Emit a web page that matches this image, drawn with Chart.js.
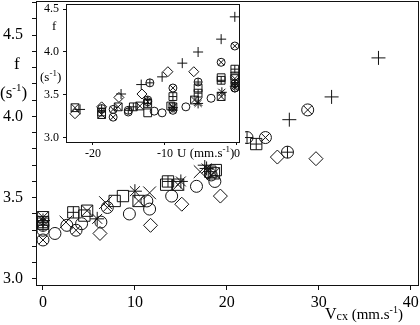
<!DOCTYPE html>
<html>
<head>
<meta charset="utf-8">
<script src="https://cdn.jsdelivr.net/npm/chart.js@4.4.0/dist/chart.umd.min.js"></script>
<style>
body{margin:0;background:#fff}
#wrap{position:relative;width:420px;height:325px}
#main{position:absolute;left:0;top:0}
#inset{position:absolute;left:37px;top:2px;background:#fff}
</style>
</head>
<body>
<div id="wrap">
<canvas id="main" width="420" height="325"></canvas>
<canvas id="inset" width="208" height="158"></canvas>
</div>
<script>
// main panel: f (s-1) against Vcx (mm.s-1), one array per marker
var mainCircle = [[0,3.30],[1.3,3.28],[2.6,3.33],[4.2,3.34],[6.3,3.35],[9.4,3.40],[11.3,3.48],[11.6,3.43],[14.0,3.51],[16.7,3.57],[18.7,3.60]];
var mainDiamond = [[6.2,3.28],[11.7,3.33],[15.1,3.46],[19.3,3.51],[25.5,3.75],[29.7,3.74]];
var mainPlus = [[17.6,3.70],[26.8,3.98],[31.4,4.12],[36.5,4.36]];
var mainCirclePlus = [[0,3.33],[22.2,3.87],[26.6,3.78]];
var mainCircleX = [[0,3.24],[3.6,3.30],[7.0,3.44],[18.3,3.64],[24.2,3.87],[28.8,4.04]];
var mainSquarePlus = [[0,3.35],[3.3,3.41],[13.6,3.60],[18.2,3.66],[23.2,3.83]];
var mainSquareX = [[0,3.38],[4.8,3.42],[10.4,3.48],[14.7,3.58],[18.6,3.65]];
var mainCross = [[2.5,3.35],[6.8,3.47],[11.6,3.53],[17.1,3.66]];
var mainStar = [[0,3.36],[5.9,3.37],[10.0,3.54],[15.0,3.60],[17.8,3.68]];
var mainSquare = [[0,3.34],[4.5,3.39],[7.8,3.48],[8.7,3.51],[13.4,3.58],[18.8,3.67]];

// inset: f (s-1) against U (mm.s-1)
var insetCircle = [[-15.1,3.30],[-11.5,3.31],[-10.4,3.29],[-7.1,3.36],[-3.6,3.46],[-0.3,3.58]];
var insetDiamond = [[-22.5,3.28],[-18.8,3.36],[-16.4,3.47],[-13.2,3.51],[-9.6,3.77],[-6.0,3.77]];
var insetPlus = [[-21.8,3.33],[-16.1,3.51],[-13.3,3.62],[-10.4,3.71],[-7.6,3.87],[-5.4,4.00],[-2.2,4.15],[-0.3,4.41]];
var insetCirclePlus = [[-18.8,3.34],[-15.1,3.32],[-12.4,3.44],[-12.1,3.64],[-5.4,3.65],[-0.3,3.63]];
var insetCircleX = [[-17.2,3.24],[-17.2,3.33],[-12.4,3.42],[-8.9,3.58],[-8.9,3.32],[-2.2,3.88],[-0.3,4.07],[-0.3,3.58]];
var insetSquarePlus = [[-18.8,3.30],[-14.4,3.36],[-12.4,3.40],[-8.9,3.48],[-5.4,3.52],[-2.2,3.67],[-0.3,3.80]];
var insetSquareX = [[-22.5,3.35],[-18.8,3.27],[-16.5,3.36],[-13.5,3.37],[-8.9,3.36],[-5.9,3.44],[-2.2,3.48],[-0.3,3.69]];
var insetCross = [[-5.4,3.42],[-0.3,3.66]];
var insetStar = [[-8.9,3.35],[-5.4,3.40],[-2.1,3.53],[-0.3,3.60]];
var insetSquare = [[-12.4,3.29],[-9.2,3.37],[-5.4,3.58],[-2.2,3.70],[-0.3,3.72]];

var mainXTicks = [0, 10, 20, 30, 40];
var mainYLabels = [3.0, 3.5, 4.0, 4.5];
var insetXTicks = [-20, -10, 0];
var insetYTicks = [3.0, 3.5, 4.0, 4.5];

var ink = '#111';

function ds(data, style, r) {
    return {
        data: data,
        pointStyle: style,
        pointRadius: r,
        pointHoverRadius: r,
        pointBorderColor: ink,
        pointBackgroundColor: 'rgba(0,0,0,0)',
        pointBorderWidth: 1,
        showLine: false
    };
}

// draw text pieces, some of them raised or lowered
function drawParts(ctx, parts, x, y) {
    parts.forEach(function(p){
        ctx.font = p.size + 'px "Liberation Serif"';
        ctx.fillText(p.t, x, y + (p.dy || 0));
        x += ctx.measureText(p.t).width;
    });
}

function boxPlugin(texts) {
    return {
        id: 'box',
        afterDraw: function(chart) {
            var ctx = chart.ctx, a = chart.chartArea;
            ctx.save();
            ctx.strokeStyle = ink;
            ctx.lineWidth = 1;
            ctx.strokeRect(Math.round(a.left) + 0.5, Math.round(a.top) + 0.5,
                Math.round(a.right - a.left), Math.round(a.bottom - a.top));
            ctx.fillStyle = '#000';
            ctx.textBaseline = 'alphabetic';
            ctx.textAlign = 'left';
            texts.forEach(function(t){ drawParts(ctx, t.parts, t.x, t.y); });
            ctx.restore();
        }
    };
}

function axis(min, max, ticksFn, label, fontSize, tickLen, pad, size) {
    return {
        type: 'linear',
        min: min,
        max: max,
        afterBuildTicks: function(s){ s.ticks = ticksFn().map(function(v){ return {value: v}; }); },
        afterFit: function(s){
            if (s.isHorizontal()) s.height = size; else s.width = size;
            s.paddingTop = 0; s.paddingBottom = 0; s.paddingLeft = 0; s.paddingRight = 0;
        },
        ticks: {
            autoSkip: false,
            maxRotation: 0,
            color: '#000',
            padding: pad,
            font: {family: 'Liberation Serif', size: fontSize},
            callback: label
        },
        grid: {drawOnChartArea: false, drawTicks: true, tickLength: tickLen, color: ink},
        border: {color: ink, width: 1}
    };
}

var mainSets = [
    ds(mainCircle, 'circle', 6),
    ds(mainDiamond, 'rectRot', 7),
    ds(mainPlus, 'cross', 7),
    ds(mainCirclePlus, 'circle', 6), ds(mainCirclePlus, 'cross', 6),
    ds(mainCircleX, 'circle', 6), ds(mainCircleX, 'crossRot', 6),
    ds(mainSquarePlus, 'rect', 8), ds(mainSquarePlus, 'cross', 5.6),
    ds(mainSquareX, 'rect', 8), ds(mainSquareX, 'crossRot', 8),
    ds(mainCross, 'crossRot', 9),
    ds(mainStar, 'star', 7),
    ds(mainSquare, 'rect', 8)
];

new Chart(document.getElementById('main'), {
    type: 'scatter',
    data: {datasets: mainSets},
    options: {
        responsive: false,
        animation: false,
        layout: {autoPadding: false, padding: {left: 0, right: 2, top: 1, bottom: 0}},
        plugins: {legend: {display: false}, tooltip: {enabled: false}},
        scales: {
            x: axis(-0.76, 40.8, function(){ return mainXTicks; },
                function(v){ return String(v); }, 16, 5, 3, 40),
            y: axis(2.963, 4.71, function(){
                    var t = [];
                    for (var i = 30; i <= 47; i++) t.push(i / 10);
                    return t;
                },
                function(v){ return mainYLabels.indexOf(Math.round(v * 10) / 10) >= 0 ? v.toFixed(1) : ''; },
                16, 4, 9, 36)
        }
    },
    plugins: [boxPlugin([
        {x: 14, y: 69, parts: [{t: 'f', size: 17}]},
        {x: 0, y: 98, parts: [{t: '(s', size: 17}, {t: '-1', size: 11, dy: -7}, {t: ')', size: 17}]},
        {x: 325, y: 319, parts: [{t: 'V', size: 16}, {t: 'cx', size: 12, dy: 1}, {t: ' (mm.s', size: 15}, {t: '-1', size: 10, dy: -6}, {t: ')', size: 15}]}
    ])]
});

var insetSets = [
    ds(insetCircle, 'circle', 4),
    ds(insetDiamond, 'rectRot', 5),
    ds(insetPlus, 'cross', 5),
    ds(insetCirclePlus, 'circle', 4), ds(insetCirclePlus, 'cross', 4),
    ds(insetCircleX, 'circle', 4), ds(insetCircleX, 'crossRot', 4),
    ds(insetSquarePlus, 'rect', 5.5), ds(insetSquarePlus, 'cross', 3.9),
    ds(insetSquareX, 'rect', 5.5), ds(insetSquareX, 'crossRot', 5.5),
    ds(insetCross, 'crossRot', 6),
    ds(insetStar, 'star', 5),
    ds(insetSquare, 'rect', 5.5)
];

new Chart(document.getElementById('inset'), {
    type: 'scatter',
    data: {datasets: insetSets},
    options: {
        responsive: false,
        animation: false,
        layout: {autoPadding: false, padding: {left: 0, right: 6, top: 2, bottom: 0}},
        plugins: {legend: {display: false}, tooltip: {enabled: false}},
        scales: {
            x: axis(-23.75, 0.28, function(){ return insetXTicks; },
                function(v){ return String(v); }, 12, 3, 2, 18),
            y: axis(2.95, 4.56, function(){ return insetYTicks; },
                function(v){ return v.toFixed(1); }, 12, 3, 4, 29)
        }
    },
    plugins: [boxPlugin([
        {x: 15, y: 28, parts: [{t: 'f', size: 13}]},
        {x: 3, y: 79, parts: [{t: '(s', size: 13}, {t: '-1', size: 9, dy: -5}, {t: ')', size: 13}]},
        {x: 140, y: 155, parts: [{t: 'U (mm.s', size: 13}, {t: '-1', size: 9, dy: -5}, {t: ')', size: 13}]}
    ])]
});
</script>
</body>
</html>
